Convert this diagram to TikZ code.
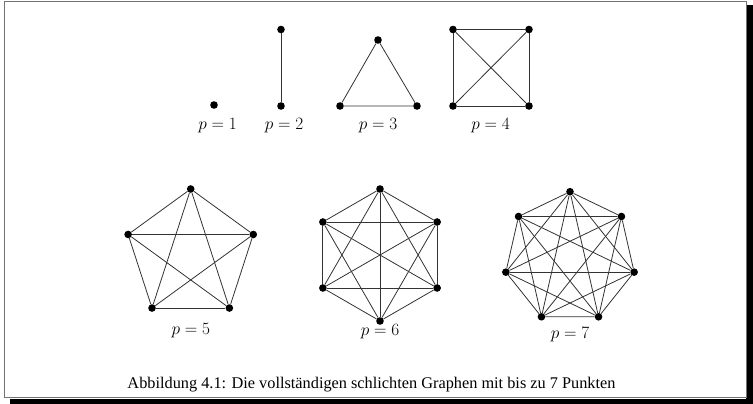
\documentclass[tikz,border=0pt]{standalone}
\usepackage{fontspec}
\usetikzlibrary{calc}
\newfontfamily\capfont{Liberation Serif}
\begin{document}
\begin{tikzpicture}[x=1pt,y=1pt,
  vtx/.style={circle,fill=black,inner sep=0pt,minimum size=7.6pt},
  edge/.style={line width=0.8pt,black!80},
  lbl/.style={inner sep=0pt,font=\fontsize{16}{19}\selectfont},
  frame/.style={line width=0.8pt,black!55},
  shadow/.style={fill=black}]
\useasboundingbox (0,0) rectangle (753,-404);
% frame with shadow
\fill[shadow] (746,-5) rectangle (753,-404);
\fill[shadow] (10,-398.5) rectangle (753,-404);
\draw[frame] (4,-1) rectangle (746,-397);
% p=1
\node[vtx] (a1) at (214,-105) {};
\node[lbl] (l1) at (217.5,-125.5) {$p=1$};
% p=2
\node[vtx] (b1) at (281,-29.5) {};
\node[vtx] (b2) at (281,-106) {};
\draw[edge] (b1) -- (b2);
\node[lbl] (l2) at (284,-125.5) {$p=2$};
% p=3
\node[vtx] (c1) at (340,-106) {};
\node[vtx] (c2) at (378,-40) {};
\node[vtx] (c3) at (417,-106) {};
\draw[edge] (c1) -- (c2) -- (c3) -- (c1);
\node[lbl] (l3) at (378,-125.5) {$p=3$};
% p=4
\node[vtx] (d1) at (453,-29.5) {};
\node[vtx] (d2) at (529,-29.5) {};
\node[vtx] (d3) at (529,-106) {};
\node[vtx] (d4) at (453,-106) {};
\foreach \i in {1,...,4}{\foreach \j in {\i,...,4}{\ifnum\i<\j \draw[edge] (d\i) -- (d\j);\fi}}
\node[lbl] (l4) at (490.5,-125.5) {$p=4$};
% p=5
\foreach \k in {1,...,5}{\node[vtx] (e\k) at ($(190.7,-254.8)+({90+72*(\k-1)}:65.8)$) {};}
\foreach \i in {1,...,5}{\foreach \j in {\i,...,5}{\ifnum\i<\j \draw[edge] (e\i) -- (e\j);\fi}}
\node[lbl] (l5) at (190.8,-331) {$p=5$};
% p=6
\foreach \k in {1,...,6}{\node[vtx] (f\k) at ($(380,-255)+({90+60*(\k-1)}:66)$) {};}
\foreach \i in {1,...,6}{\foreach \j in {\i,...,6}{\ifnum\i<\j \draw[edge] (f\i) -- (f\j);\fi}}
\node[lbl] (l6) at (380,-332) {$p=6$};
% p=7
\foreach \k in {1,...,7}{\node[vtx] (g\k) at ($(570,-257.5)+({90+360/7*(\k-1)}:65.8)$) {};}
\foreach \i in {1,...,7}{\foreach \j in {\i,...,7}{\ifnum\i<\j \draw[edge] (g\i) -- (g\j);\fi}}
\node[lbl] (l7) at (570,-334.5) {$p=7$};
% caption
\node[inner sep=0pt,anchor=base,font=\capfont\fontsize{16.3}{19}\selectfont] (cap) at (371.5,-388) {Abbildung 4.1: Die vollständigen schlichten Graphen mit bis zu 7 Punkten};
\end{tikzpicture}
\end{document}
